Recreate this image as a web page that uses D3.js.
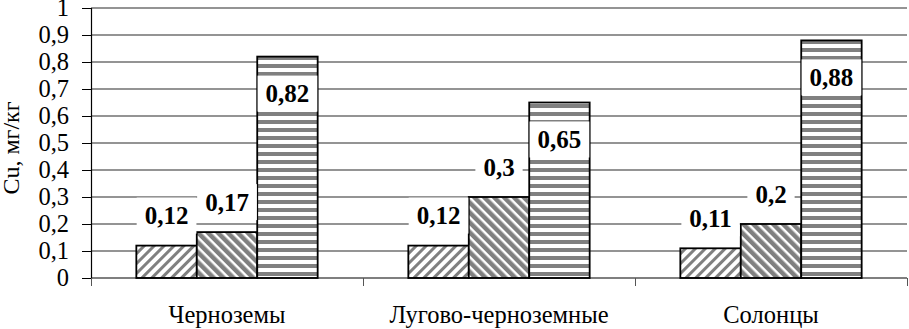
<!DOCTYPE html>
<html>
<head>
<meta charset="utf-8">
<script src="https://cdn.jsdelivr.net/npm/d3@7"></script>
<style>
  html, body { margin: 0; padding: 0; background: #fff; }
  svg { display: block; }
  svg text { font-family: 'Liberation Serif', 'Times New Roman', Tinos, 'DejaVu Serif', serif; }
</style>
</head>
<body>
<svg id="chart" width="909" height="329"></svg>
<script>
'use strict';

var categories = ['Черноземы', 'Лугово-черноземные', 'Солонцы'];
var seriesKeys = ['s1', 's2', 's3'];
var series1 = [0.12, 0.12, 0.11];
var series2 = [0.17, 0.3, 0.2];
var series3 = [0.82, 0.65, 0.88];
var yTicks = [0, 0.1, 0.2, 0.3, 0.4, 0.5, 0.6, 0.7, 0.8, 0.9, 1];
var yTitle = 'Cu, мг/кг';

var seriesValues = [series1, series2, series3];

var svg = d3.select('#chart');
var plotLeft = 91, plotRight = 907, plotTop = 8, plotBottom = 278;

var x0 = d3.scaleBand().domain(categories).range([plotLeft, plotRight]).padding(0);
var x1 = d3.scaleBand().domain(seriesKeys).range([0, x0.bandwidth()])
  .paddingInner(0).paddingOuter(0.75);
var y = d3.scaleLinear().domain([0, 1]).range([plotBottom, plotTop]);

function fmt(v) {
  return String(v).replace('.', ',');
}

// fill patterns
var defs = svg.append('defs');

function stripePattern(id, angle, period, thick) {
  var p = defs.append('pattern')
    .attr('id', id)
    .attr('patternUnits', 'userSpaceOnUse')
    .attr('width', period)
    .attr('height', period)
    .attr('patternTransform', 'rotate(' + angle + ')');
  p.append('rect').attr('width', period).attr('height', period).attr('fill', '#fff');
  p.append('rect').attr('width', thick).attr('height', period).attr('fill', '#808080');
}
stripePattern('pat-s1', 45, 7, 3);
stripePattern('pat-s2', -45, 7, 4.5);
stripePattern('pat-s3', 90, 8, 4);

// gridlines
svg.append('g').selectAll('line')
  .data(yTicks.slice(1))
  .enter()
  .append('line')
  .attr('x1', plotLeft)
  .attr('x2', plotRight)
  .attr('y1', function(d) { return y(d); })
  .attr('y2', function(d) { return y(d); })
  .attr('stroke', '#2a2a2a')
  .attr('stroke-width', 1.2);

// bars
var rows = categories.map(function(c, i) {
  return seriesKeys.map(function(k, j) {
    return { cat: c, key: k, value: seriesValues[j][i] };
  });
});

var groups = svg.append('g').selectAll('g')
  .data(rows)
  .enter()
  .append('g')
  .attr('transform', function(d) { return 'translate(' + x0(d[0].cat) + ',0)'; });

groups.selectAll('rect')
  .data(function(d) { return d; })
  .enter()
  .append('rect')
  .attr('x', function(d) { return x1(d.key); })
  .attr('y', function(d) { return y(d.value); })
  .attr('width', x1.bandwidth())
  .attr('height', function(d) { return y(0) - y(d.value); })
  .attr('fill', function(d) { return 'url(#pat-' + d.key + ')'; })
  .attr('stroke', '#000')
  .attr('stroke-width', 1.8);

// axes
var yAxis = d3.axisLeft(y).tickValues(yTicks).tickSize(9).tickPadding(13)
  .tickFormat(function(d) { return fmt(d); });
var gy = svg.append('g').attr('transform', 'translate(' + plotLeft + ',0)').call(yAxis);
gy.attr('font-family', null);
gy.select('.domain').attr('stroke', '#000').attr('stroke-width', 1.2);
gy.selectAll('.tick line').attr('stroke', '#000');
gy.selectAll('.tick text')
  .attr('fill', '#000')
  .style('font-size', '24.5px');

var xAxis = d3.axisBottom(d3.scalePoint().domain(d3.range(categories.length + 1)).range([plotLeft, plotRight]))
  .tickSize(8).tickFormat('');
var gx = svg.append('g').attr('transform', 'translate(0,' + plotBottom + ')').call(xAxis);
gx.select('.domain').attr('stroke', '#000').attr('stroke-width', 1.2).attr('d', 'M' + plotLeft + ',0H' + plotRight);
gx.selectAll('.tick line').attr('stroke', '#555');

svg.append('g').selectAll('text')
  .data(categories)
  .enter()
  .append('text')
  .attr('x', function(d) { return x0(d) + x0.bandwidth() / 2; })
  .attr('y', 323)
  .attr('text-anchor', 'middle')
  .style('font-size', '24.5px')
  .text(function(d) { return d; });

svg.append('text')
  .attr('transform', 'translate(19,' + 148 + ') rotate(-90)')
  .attr('text-anchor', 'middle')
  .style('font-size', '24px')
  .text(yTitle);

// data labels with white boxes
var labels = groups.selectAll('g.lbl')
  .data(function(d) { return d; })
  .enter()
  .append('g')
  .attr('class', 'lbl')
  .attr('transform', function(d) {
    var cx = x1(d.key) + x1.bandwidth() / 2;
    var cy = d.value > 0.5 ? y(d.value) + 37 : y(d.value) - 30;
    return 'translate(' + cx + ',' + cy + ')';
  });

labels.append('rect').attr('fill', '#fff');
labels.append('text')
  .attr('text-anchor', 'middle')
  .attr('dy', '0.35em')
  .style('font-size', '25px')
  .style('font-weight', 'bold')
  .text(function(d) { return fmt(d.value); });

labels.each(function() {
  var g = d3.select(this);
  var bb = g.select('text').node().getBBox();
  g.select('rect')
    .attr('x', bb.x - 8)
    .attr('y', -18)
    .attr('width', bb.width + 16)
    .attr('height', 36);
});
</script>
</body>
</html>
